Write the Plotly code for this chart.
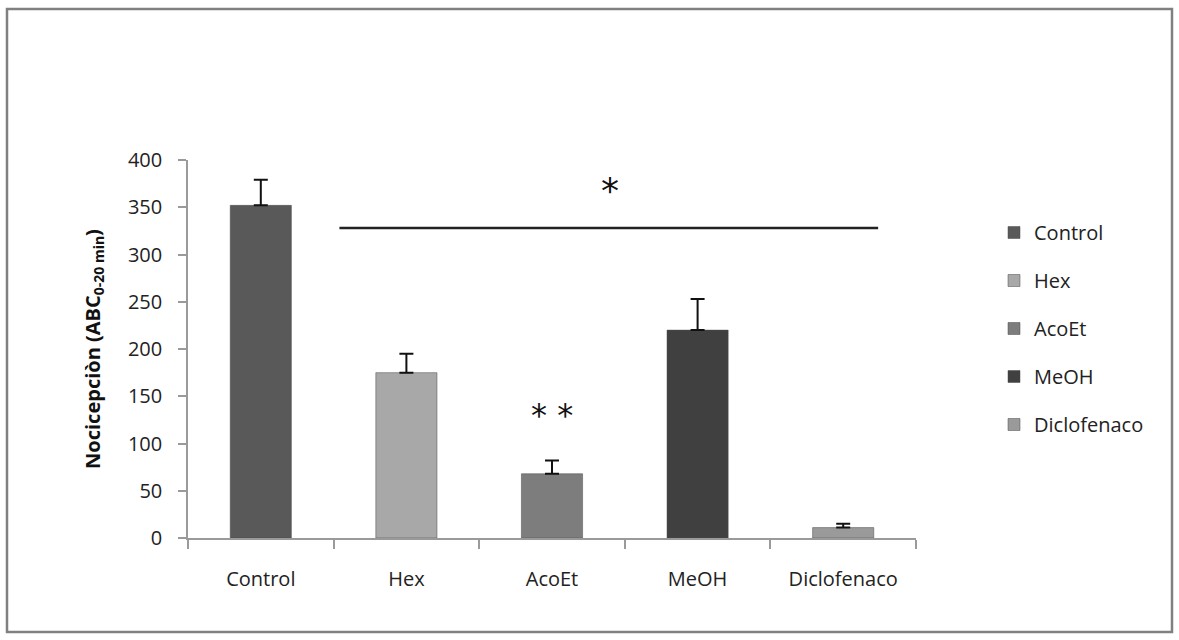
import plotly.graph_objects as go

# Groups, mean nociception (AUC 0-20 min) and upper SEM
categories = ["Control", "Hex", "AcoEt", "MeOH", "Diclofenaco"]
means = [352, 175, 68, 220, 11]
sem = [27, 20, 14, 33, 4]
colors = ["#595959", "#a8a8a8", "#7d7d7d", "#404040", "#9a9a9a"]

y_ticks = [0, 50, 100, 150, 200, 250, 300, 350, 400]

# Significance marks: bracket across treated groups, and individual mark
bracket_y = 328
bracket_x = [0.54, 4.24]
star_pos = (2.40, 368)
double_star_pos = (2, 130)

W, H = 1179, 640
L, R, T, B = 188, 263, 160, 102
pw, ph = W - L - R, H - T - B

fig = go.Figure()
for i, (cat, m, e, c) in enumerate(zip(categories, means, sem, colors)):
    fig.add_trace(go.Bar(
        x=[cat], y=[m], name=cat, legendgroup=cat,
        marker=dict(color=c, line=dict(color="#4a4a4a", width=0.5)),
        width=0.42,
        error_y=dict(type="data", array=[e], arrayminus=[0], symmetric=False,
                     color="#111111", thickness=2, width=7),
    ))

font_family = "Open Sans, sans-serif"

fig.update_layout(
    width=W, height=H,
    margin=dict(l=L, r=R, t=T, b=B, pad=0),
    paper_bgcolor="white", plot_bgcolor="white",
    barmode="overlay",
    showlegend=True,
    font=dict(family=font_family, color="#222222", size=20),
    legend=dict(x=(994 - L) / pw, xanchor="left", y=(H - B - 213) / ph, yanchor="top",
                font=dict(size=20, color="#222222"), tracegroupgap=19,
                itemwidth=30, bgcolor="rgba(0,0,0,0)"),
    xaxis=dict(showline=True, linecolor="#9a9a9a", linewidth=1.5,
               ticks="outside", ticklen=9, tickcolor="#9a9a9a", tickwidth=1.5,
               tickson="boundaries", showgrid=False,
               tickfont=dict(size=20, color="#222222"), ticklabelstandoff=22),
    yaxis=dict(range=[0, 400], tickvals=y_ticks, showline=True, linecolor="#9a9a9a",
               linewidth=1.5, ticks="outside", ticklen=8, tickcolor="#9a9a9a", tickwidth=1.5,
               showgrid=False, zeroline=False,
               tickfont=dict(size=20, color="#222222"), ticklabelstandoff=12,
               title=dict(text="<b>Nocicepciòn (ABC<sub>0-20 min</sub>)</b>",
                          font=dict(size=20, color="#111111"), standoff=22)),
)

# Outer frame of the chart
fig.add_shape(type="rect", xref="paper", yref="paper",
              x0=(7 - L) / pw, x1=(1172 - L) / pw,
              y0=(H - B - 632) / ph, y1=(H - B - 9) / ph,
              line=dict(color="#808080", width=2.5), fillcolor="rgba(0,0,0,0)", layer="below")

# Bracket and significance stars
fig.add_shape(type="line", xref="x", yref="y",
              x0=bracket_x[0], x1=bracket_x[1], y0=bracket_y, y1=bracket_y,
              line=dict(color="#222222", width=2.5))
fig.add_annotation(x=star_pos[0], y=star_pos[1], xref="x", yref="y", text="*",
                   showarrow=False, font=dict(size=36, color="#111111", family="DejaVu Sans"))
fig.add_annotation(x=double_star_pos[0], y=double_star_pos[1], xref="x", yref="y",
                   text="* *", showarrow=False,
                   font=dict(size=32, color="#111111", family="DejaVu Sans"))

fig.write_html("out.html")
